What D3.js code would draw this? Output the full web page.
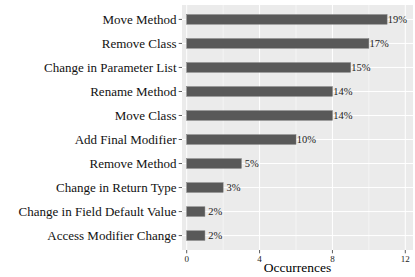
<!DOCTYPE html>
<html>
<head>
<meta charset="utf-8">
<script src="https://cdn.jsdelivr.net/npm/d3@7"></script>
<style>
  body { margin: 0; background: #fff; }
  svg { display: block; }
  svg text { font-family: 'Liberation Serif', serif; }
</style>
</head>
<body>
<div id="chart"></div>
<script>
var categories = ["Move Method", "Remove Class", "Change in Parameter List", "Rename Method",
    "Move Class", "Add Final Modifier", "Remove Method", "Change in Return Type",
    "Change in Field Default Value", "Access Modifier Change"];
var counts = [11, 10, 9, 8, 8, 6, 3, 2, 1, 1];
var xTicks = [0, 4, 8, 12];
var xMinor = [2, 6, 10];

function chart() {
    var W = 415, H = 277;
    var panel = {left: 182, right: 413, top: 5, bottom: 250};
    var serif = "'Liberation Serif', serif";

    var total = d3.sum(counts);
    var data = categories.map(function(c, i) { return {name: c, n: counts[i]}; });

    var x = d3.scaleLinear().domain([0, 12]).range([186.7, 405.3]);
    // ggplot-style discrete expand: 0.6 units each side
    var y = d3.scalePoint().domain(categories)
        .range([panel.top, panel.bottom]).padding(0.6);
    var step = y.step();
    var barH = step * 0.4;

    var svg = d3.select("#chart").append("svg")
        .attr("width", W)
        .attr("height", H)
        .attr("font-family", serif);

    svg.append("rect")
        .attr("x", panel.left).attr("y", panel.top)
        .attr("width", panel.right - panel.left)
        .attr("height", panel.bottom - panel.top)
        .attr("fill", "#ebebeb");

    // grid
    svg.append("g").selectAll("line").data(xMinor).enter().append("line")
        .attr("x1", d => x(d)).attr("x2", d => x(d))
        .attr("y1", panel.top).attr("y2", panel.bottom)
        .attr("stroke", "#fff").attr("stroke-width", 0.5);
    svg.append("g").selectAll("line").data(xTicks).enter().append("line")
        .attr("x1", d => x(d)).attr("x2", d => x(d))
        .attr("y1", panel.top).attr("y2", panel.bottom)
        .attr("stroke", "#fff").attr("stroke-width", 1);
    svg.append("g").selectAll("line").data(categories).enter().append("line")
        .attr("x1", panel.left).attr("x2", panel.right)
        .attr("y1", d => y(d)).attr("y2", d => y(d))
        .attr("stroke", "#fff").attr("stroke-width", 1);

    // bars
    svg.append("g").selectAll("rect").data(data).enter().append("rect")
        .attr("x", x(0))
        .attr("y", d => y(d.name) - barH / 2)
        .attr("width", d => x(d.n) - x(0))
        .attr("height", barH)
        .attr("fill", "#595959")
        .attr("stroke", "#7a7a7a")
        .attr("stroke-width", 0.5);

    // percent labels
    svg.append("g").selectAll("text").data(data).enter().append("text")
        .attr("x", d => x(d.n) + 0.7)
        .attr("y", d => y(d.name))
        .attr("dy", "0.35em")
        .attr("font-family", serif)
        .style("white-space", "pre")
        .attr("font-size", "10.5px")
        .attr("fill", "#222")
        .text(function(d) {
            var p = Math.round(d.n / total * 100);
            return (p < 10 ? " " : "") + p + "%";
        });

    // y axis
    var ya = svg.append("g");
    ya.selectAll("line").data(categories).enter().append("line")
        .attr("x1", panel.left - 3.3).attr("x2", panel.left)
        .attr("y1", d => y(d)).attr("y2", d => y(d))
        .attr("stroke", "#333").attr("stroke-width", 0.8);
    ya.selectAll("text").data(categories).enter().append("text")
        .attr("x", panel.left - 5.5)
        .attr("y", d => y(d))
        .attr("dy", "0.35em")
        .attr("text-anchor", "end")
        .attr("font-family", serif)
        .attr("font-size", "13px")
        .attr("fill", "#111")
        .text(d => d);

    // x axis
    var xa = svg.append("g");
    xa.selectAll("line").data(xTicks).enter().append("line")
        .attr("x1", d => x(d)).attr("x2", d => x(d))
        .attr("y1", panel.bottom).attr("y2", panel.bottom + 3.3)
        .attr("stroke", "#333").attr("stroke-width", 0.8);
    xa.selectAll("text").data(xTicks).enter().append("text")
        .attr("x", d => x(d))
        .attr("y", 261.7)
        .attr("text-anchor", "middle")
        .attr("font-family", serif)
        .attr("font-size", "9px")
        .attr("fill", "#222")
        .text(d => d);

    svg.append("text")
        .attr("x", (panel.left + panel.right) / 2)
        .attr("y", 272)
        .attr("text-anchor", "middle")
        .attr("font-family", serif)
        .attr("font-size", "13.5px")
        .attr("fill", "#000")
        .text("Occurrences");
}
chart();
</script>
</body>
</html>
